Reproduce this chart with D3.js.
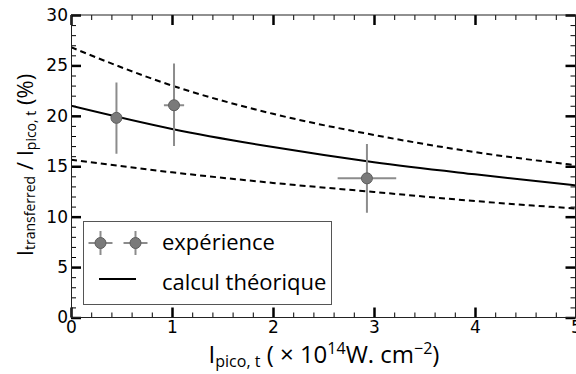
<!DOCTYPE html>
<html>
<head>
<meta charset="utf-8">
<script src="https://cdn.jsdelivr.net/npm/d3@7"></script>
<style>
  body { margin: 0; background: #fff; }
  text { fill: #000; }
</style>
</head>
<body>
<svg id="chart" width="576" height="374"></svg>
<script>
(function () {
  'use strict';

  // values
  var xTicks = [0, 1, 2, 3, 4, 5];
  var yTicks = [0, 5, 10, 15, 20, 25, 30];
  var theoryX = [0, 1, 2, 3, 4, 5];
  var theory = [21.0, 18.7, 16.9, 15.4, 14.2, 13.1];
  var theoryHigh = [26.8, 23.0, 20.2, 18.1, 16.4, 15.1];
  var theoryLow = [15.65, 14.4, 13.35, 12.45, 11.55, 10.8];
  var expX = [0.45, 1.02, 2.93];
  var expY = [19.8, 21.05, 13.8];
  var expXErr = [0, 0.1, 0.29];
  var expYLow = [16.25, 17.0, 10.4];
  var expYHigh = [23.3, 25.2, 17.2];
  var legendLabels = ['expérience', 'calcul théorique'];

  var left = 71, right = 576, top = 15, bottom = 317.5;
  var svg = d3.select('#chart');

  var x = d3.scaleLinear().domain([0, 5]).range([left, right]);
  var y = d3.scaleLinear().domain([0, 30]).range([bottom, top]);

  var tickFont = '"DejaVu Sans", sans-serif';
  var labelFont = '"Open Sans", "DejaVu Sans", sans-serif';
  var noLabel = function () { return ''; };

  svg.append('clipPath').attr('id', 'plot-clip')
      .append('rect')
      .attr('x', left).attr('y', top).attr('width', right - left).attr('height', bottom - top);

  var plot = svg.append('g').attr('clip-path', 'url(#plot-clip)');

  // curves
  var line = d3.line()
      .x(function (d) { return x(d[0]); })
      .y(function (d) { return y(d[1]); })
      .curve(d3.curveMonotoneX);

  [[theoryHigh, '6,4'], [theoryLow, '6,4'], [theory, null]].forEach(function (c) {
    plot.append('path')
        .datum(d3.zip(theoryX, c[0]))
        .attr('d', line)
        .attr('fill', 'none')
        .attr('stroke', '#000')
        .attr('stroke-width', 2)
        .attr('stroke-dasharray', c[1]);
  });

  // experiment with error bars
  var pts = plot.selectAll('.pt')
      .data(d3.range(expX.length))
      .enter().append('g').attr('class', 'pt');

  pts.append('line')
      .attr('x1', function (i) { return x(expX[i]); })
      .attr('x2', function (i) { return x(expX[i]); })
      .attr('y1', function (i) { return y(expYLow[i]); })
      .attr('y2', function (i) { return y(expYHigh[i]); })
      .attr('stroke', '#8c8c8c').attr('stroke-width', 2);

  pts.append('line')
      .attr('x1', function (i) { return x(expX[i] - expXErr[i]); })
      .attr('x2', function (i) { return x(expX[i] + expXErr[i]); })
      .attr('y1', function (i) { return y(expY[i]); })
      .attr('y2', function (i) { return y(expY[i]); })
      .attr('stroke', '#8c8c8c').attr('stroke-width', 2);

  pts.append('circle')
      .attr('cx', function (i) { return x(expX[i]); })
      .attr('cy', function (i) { return y(expY[i]); })
      .attr('r', 5.5)
      .attr('fill', '#7a7a7a')
      .attr('stroke', '#5e5e5e')
      .attr('stroke-width', 1);

  // axes, ticks pointing inward
  function styleAxis(g, major) {
    g.select('.domain').remove();
    g.selectAll('.tick line')
        .attr('stroke', '#000')
        .attr('stroke-width', major ? 2.5 : 1);
    g.selectAll('text')
        .style('font-family', tickFont)
        .style('font-size', '17px')
        .attr('fill', '#000');
  }

  var minorX = d3.range(0, 5.001, 0.2);
  var minorY = d3.range(0, 30.001, 1);

  svg.append('g').attr('transform', 'translate(0,' + bottom + ')')
      .call(d3.axisBottom(x).tickValues(minorX).tickSize(-5).tickFormat(noLabel))
      .call(styleAxis, false);
  svg.append('g').attr('transform', 'translate(0,' + bottom + ')')
      .call(d3.axisBottom(x).tickValues(xTicks).tickSize(-10).tickPadding(3).tickFormat(d3.format('d')))
      .call(styleAxis, true);
  svg.append('g').attr('transform', 'translate(0,' + top + ')')
      .call(d3.axisTop(x).tickValues(minorX).tickSize(-5).tickFormat(noLabel))
      .call(styleAxis, false);
  svg.append('g').attr('transform', 'translate(0,' + top + ')')
      .call(d3.axisTop(x).tickValues(xTicks).tickSize(-10).tickFormat(noLabel))
      .call(styleAxis, true);

  svg.append('g').attr('transform', 'translate(' + left + ',0)')
      .call(d3.axisLeft(y).tickValues(minorY).tickSize(-5).tickFormat(noLabel))
      .call(styleAxis, false);
  svg.append('g').attr('transform', 'translate(' + left + ',0)')
      .call(d3.axisLeft(y).tickValues(yTicks).tickSize(-10).tickPadding(3).tickFormat(d3.format('d')))
      .call(styleAxis, true);
  svg.append('g').attr('transform', 'translate(' + (right - 0.5) + ',0)')
      .call(d3.axisRight(y).tickValues(minorY).tickSize(-5).tickFormat(noLabel))
      .call(styleAxis, false);
  svg.append('g').attr('transform', 'translate(' + (right - 0.5) + ',0)')
      .call(d3.axisRight(y).tickValues(yTicks).tickSize(-10).tickFormat(noLabel))
      .call(styleAxis, true);

  svg.append('rect')
      .attr('x', left + 0.5).attr('y', top)
      .attr('width', right - left - 1).attr('height', bottom - top)
      .attr('fill', 'none').attr('stroke', '#222').attr('stroke-width', 1);

  // legend
  var legend = svg.append('g');
  legend.append('rect')
      .attr('x', 83.5).attr('y', 221.5).attr('width', 248).attr('height', 83)
      .attr('fill', '#fff').attr('stroke', '#555').attr('stroke-width', 1);

  [100.5, 135.5].forEach(function (cx) {
    legend.append('line').attr('x1', cx - 12).attr('x2', cx + 12).attr('y1', 243).attr('y2', 243)
        .attr('stroke', '#8c8c8c').attr('stroke-width', 2);
    legend.append('line').attr('x1', cx).attr('x2', cx).attr('y1', 231).attr('y2', 255)
        .attr('stroke', '#8c8c8c').attr('stroke-width', 2);
    legend.append('circle').attr('cx', cx).attr('cy', 243).attr('r', 5.5)
        .attr('fill', '#7a7a7a').attr('stroke', '#5e5e5e');
  });
  legend.append('line').attr('x1', 99).attr('x2', 136).attr('y1', 279).attr('y2', 279)
      .attr('stroke', '#000').attr('stroke-width', 2);

  legend.selectAll('.lab').data(legendLabels).enter().append('text')
      .attr('class', 'lab')
      .attr('x', 162)
      .attr('y', function (d, i) { return 250 + i * 40; })
      .style('font-family', labelFont)
      .style('font-size', '22px')
      .text(function (d) { return d; });

  // axis titles
  var xl = svg.append('text')
      .attr('x', 324).attr('y', 363)
      .attr('text-anchor', 'middle')
      .style('font-family', labelFont)
      .style('font-size', '24px');
  xl.append('tspan').text('I');
  xl.append('tspan').attr('dy', 4).style('font-size', '16px').text('pico, t');
  xl.append('tspan').attr('dy', -4).text(' ( × 10');
  xl.append('tspan').attr('dy', -9).style('font-size', '16px').text('14');
  xl.append('tspan').attr('dy', 9).text('W. cm');
  xl.append('tspan').attr('dy', -9).style('font-size', '16px').text('−2');
  xl.append('tspan').attr('dy', 9).text(')');

  var yl = svg.append('text')
      .attr('transform', 'translate(33,165) rotate(-90)')
      .attr('text-anchor', 'middle')
      .style('font-family', labelFont)
      .style('font-size', '22px');
  yl.append('tspan').text('I');
  yl.append('tspan').attr('dy', 2).style('font-size', '14px').text('transferred');
  yl.append('tspan').attr('dy', -2).text(' / I');
  yl.append('tspan').attr('dy', 3).style('font-size', '14px').text('pico, t');
  yl.append('tspan').attr('dy', -3).text(' (%)');
}());
</script>
</body>
</html>
